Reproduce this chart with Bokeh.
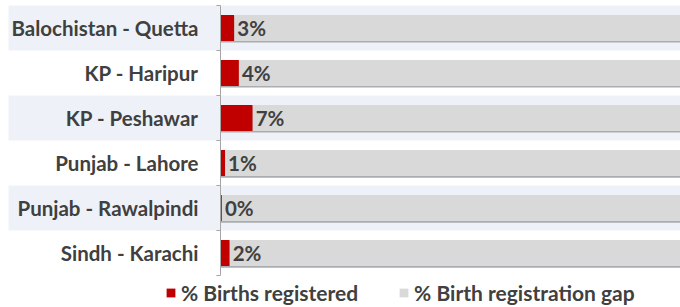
from bokeh.plotting import figure
from bokeh.models import Range1d, ColumnDataSource, Legend, LegendItem
from bokeh.core.properties import value
from bokeh.embed import file_html
from bokeh.resources import INLINE

categories = ["Balochistan - Quetta", "KP - Haripur", "KP - Peshawar",
              "Punjab - Lahore", "Punjab - Rawalpindi", "Sindh - Karachi"]
registered = [3, 4, 7, 1, 0.3, 2]
gap = [97, 96, 93, 99, 99.7, 98]
labels = ["3%", "4%", "7%", "1%", "0%", "2%"]

n = len(categories)
ypos = [n - 1 - i for i in range(n)]

RED = "#c00000"
GREY = "#d9d9d9"
BAND = "#eef2f8"
TXT = "#404040"
FONT = "Lato"
FS = "20.5px"

x0, x1 = -47.83, 100.0
p = figure(width=680, height=307, output_backend="svg", toolbar_location=None,
           x_range=Range1d(x0, x1), y_range=Range1d(-1.211, n - 1 + 0.611),
           min_border=0, outline_line_color=None)
p.xaxis.visible = False
p.yaxis.visible = False
p.xgrid.visible = False
p.ygrid.visible = False
p.background_fill_color = "white"

src = ColumnDataSource(dict(cat=categories, y=ypos, reg=registered, gap=gap,
                            lab=labels,
                            tot=[r + g for r, g in zip(registered, gap)],
                            ysh=[y - 0.035 for y in ypos]))

# alternating row bands
band_y = [ypos[i] for i in range(n) if i % 2 == 0]
p.hbar(y=band_y, left=-46.1, right=x1, height=1.0, color=BAND, line_color=None)

# shadow under bars
p.hbar(y="ysh", left=0, right="tot", height=0.58, source=src,
       color="#a9adb1", line_color=None)

red = p.hbar(y="y", left=0, right="reg", height=0.58, source=src,
             color=RED, line_color=None)
grey = p.hbar(y="y", left="reg", right="tot", height=0.58, source=src,
              color=GREY, line_color=None)

# axis line and ticks at row boundaries
bounds = [y - 0.5 for y in ypos] + [ypos[0] + 0.5]
p.segment(x0=[0], y0=[min(bounds)], x1=[0], y1=[max(bounds)],
          line_color="#a6a6a6", line_width=1)
p.segment(x0=[-0.9] * len(bounds), y0=bounds, x1=[0] * len(bounds), y1=bounds,
          line_color="#a6a6a6", line_width=1)

# category labels
p.text(x=0, y="y", text="cat", source=src, x_offset=-22,
       text_align="right", text_baseline="middle",
       text_font=value(FONT), text_font_style="bold", text_font_size=FS,
       text_color=TXT)

# data labels
p.text(x="reg", y="y", text="lab", source=src, x_offset=3,
       text_align="left", text_baseline="middle",
       text_font=value(FONT), text_font_style="bold", text_font_size=FS,
       text_color=TXT)

legend = Legend(items=[LegendItem(label="% Births registered", renderers=[red]),
                       LegendItem(label="% Birth registration gap", renderers=[grey])],
                location=(165, 2), orientation="horizontal",
                padding=0, margin=0, spacing=40, label_standoff=5,
                glyph_width=11, glyph_height=11, label_height=14,
                label_text_font=FONT, label_text_font_style="bold",
                label_text_font_size="21px", label_text_color=TXT,
                background_fill_alpha=0, border_line_alpha=0)
p.add_layout(legend, "center")

open("out.html", "w").write(file_html(p, INLINE))
